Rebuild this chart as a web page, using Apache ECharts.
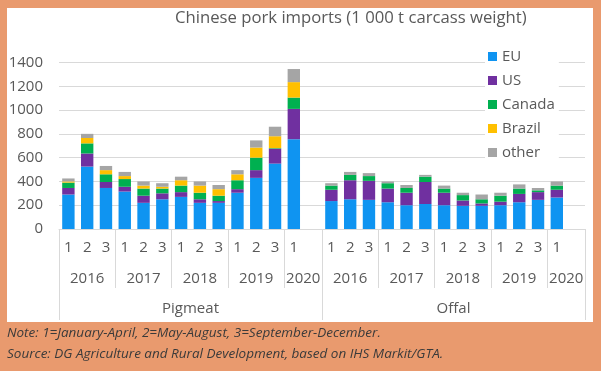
<!DOCTYPE html>
<html>
<head>
<meta charset="utf-8">
<script src="https://cdn.jsdelivr.net/npm/echarts@6/dist/echarts.min.js"></script>
<style>
html,body{margin:0;padding:0;background:#E99A6E;}
#chart{width:601px;height:371px;}
</style>
</head>
<body>
<div id="chart"></div>
<script>
// ---- data (1 000 t carcass weight) ----
const periods = ['1','2','3','1','2','3','1','2','3','1','2','3','1'];
const years = ['2016','2017','2018','2019','2020'];
const yearLengths = [3, 3, 3, 3, 1];
const products = ['Pigmeat', 'Offal'];
const seriesNames = ['EU', 'US', 'Canada', 'Brazil', 'other'];

const pigEU     = [290, 525, 345, 315, 220, 250, 270, 220, 220, 305, 430, 550, 755];
const pigUS     = [ 55, 110,  50,  40,  60,  50,  40,  30,  15,  30,  65, 125, 255];
const pigCanada = [ 45,  85,  65,  65,  60,  40,  55,  55,  45,  75, 105,   5,  95];
const pigBrazil = [ 10,  45,  35,  25,  25,  15,  45,  60,  55,  50,  85, 100, 130];
const pigOther  = [ 25,  35,  35,  35,  35,  30,  30,  35,  35,  35,  60,  80, 110];

const offEU     = [235, 250, 245, 225, 200, 210, 200, 195, 195, 200, 225, 245, 265];
const offUS     = [ 95, 160, 160, 115, 105, 185, 105,  45,  20,  30,  70,  65,  65];
const offCanada = [ 35,  45,  40,  45,  40,  45,  35,  45,  35,  50,  45,  15,  35];
const offBrazil = [  0,   0,   0,   0,   0,   0,   0,   0,   0,   0,   0,   0,   0];
const offOther  = [ 20,  25,  25,  15,  25,  15,  25,  20,  40,  25,  35,  20,  35];

const yTicks = { min: 0, max: 1400, interval: 200 };

// ---- build the category layout: each product group followed by an empty slot ----
const slot = periods.length + 1;            // 14 slots per product
const categories = [];
products.forEach(() => { periods.forEach(p => categories.push(p)); categories.push(''); });
const withGap = (a, b) => a.concat([null], b, [null]);
const seriesData = [
  withGap(pigEU, offEU),
  withGap(pigUS, offUS),
  withGap(pigCanada, offCanada),
  withGap(pigBrazil, offBrazil),
  withGap(pigOther, offOther)
];
const colors = ['#0F94F1', '#7030A0', '#00B050', '#FFC000', '#A5A5A5'];

// year groups: start index & length (last year also takes the empty slot)
const yearBoundaries = new Set();
const yearLabelPos = {};
products.forEach((_, pi) => {
  let start = pi * slot;
  years.forEach((y, yi) => {
    const len = yearLengths[yi] + (yi === years.length - 1 ? 1 : 0);
    yearBoundaries.add(start);
    yearLabelPos[(start + len / 2).toFixed(1)] = y;
    start += len;
  });
});
const productLabelPos = {};
products.forEach((p, pi) => { productLabelPos[(pi * slot + slot / 2).toFixed(1)] = p; });
const productBoundaries = new Set(products.map((_, pi) => pi * slot));

const FONT = 'Open Sans';
const TXT = '#595959';
const GRID = '#D9D9D9';

const chart = echarts.init(document.getElementById('chart'), null, { renderer: 'canvas' });
chart.setOption({
  backgroundColor: '#E99A6E',
  animation: false,
  textStyle: { fontFamily: FONT },
  graphic: [
    { type: 'rect', left: 7, top: 8, shape: { width: 586, height: 314 }, style: { fill: '#ffffff' }, z: -10, silent: true },
    { type: 'text', left: 7, top: 326, style: { text: 'Note: 1=January-April, 2=May-August, 3=September-December.', font: 'italic 13.5px "Open Sans"', fill: '#3a3a3a' } },
    { type: 'text', left: 7, top: 347, style: { text: 'Source: DG Agriculture and Rural Development, based on IHS Markit/GTA.', font: 'italic 13.5px "Open Sans"', fill: '#3a3a3a' } }
  ],
  title: {
    text: 'Chinese pork imports (1 000 t carcass weight)',
    left: 175, top: 10, padding: 0,
    textStyle: { fontFamily: FONT, fontSize: 16.7, fontWeight: 'normal', color: TXT }
  },
  legend: {
    orient: 'vertical', left: 485, top: 46, padding: [3, 4, 3, 3],
    backgroundColor: '#ffffff',
    itemWidth: 9, itemHeight: 9, itemGap: 9,
    icon: 'rect',
    data: seriesNames,
    textStyle: { fontFamily: FONT, fontSize: 15, color: TXT, lineHeight: 15 }
  },
  grid: { left: 59, right: 16, top: 62.5, bottom: 142, containLabel: false },
  yAxis: {
    type: 'value', min: yTicks.min, max: yTicks.max, interval: yTicks.interval,
    axisLine: { show: false }, axisTick: { show: false },
    axisLabel: { color: TXT, fontSize: 15, fontFamily: FONT, margin: 16, formatter: (v) => String(v) },
    splitLine: { lineStyle: { color: GRID, width: 1 } }
  },
  xAxis: [
    {
      type: 'category', data: categories, position: 'bottom',
      axisLine: { lineStyle: { color: GRID } },
      axisTick: { show: true, length: 59, lineStyle: { color: GRID }, interval: (i) => yearBoundaries.has(i) },
      axisLabel: { interval: 0, color: TXT, fontSize: 15, fontFamily: FONT, margin: 11 }
    },
    {
      type: 'category', data: categories, position: 'bottom',
      axisLine: { show: false },
      axisTick: { show: true, length: 91, lineStyle: { color: GRID }, interval: (i) => productBoundaries.has(i) },
      axisLabel: { show: false }
    },
    {
      type: 'value', min: 0, max: categories.length, interval: 0.5, position: 'bottom',
      axisLine: { show: false }, axisTick: { show: false }, splitLine: { show: false },
      axisLabel: { color: TXT, fontSize: 15, fontFamily: FONT, margin: 42, showMinLabel: true, showMaxLabel: true,
        formatter: (v) => yearLabelPos[v.toFixed(1)] || '' }
    },
    {
      type: 'value', min: 0, max: categories.length, interval: 0.5, position: 'bottom',
      axisLine: { show: false }, axisTick: { show: false }, splitLine: { show: false },
      axisLabel: { color: TXT, fontSize: 15, fontFamily: FONT, margin: 72, showMinLabel: true, showMaxLabel: true,
        formatter: (v) => productLabelPos[v.toFixed(1)] || '' }
    }
  ],
  series: seriesNames.map((name, i) => ({
    name, type: 'bar', stack: 'total', xAxisIndex: 0,
    barCategoryGap: '34%',
    itemStyle: { color: colors[i] },
    data: seriesData[i]
  }))
});
</script>
</body>
</html>
